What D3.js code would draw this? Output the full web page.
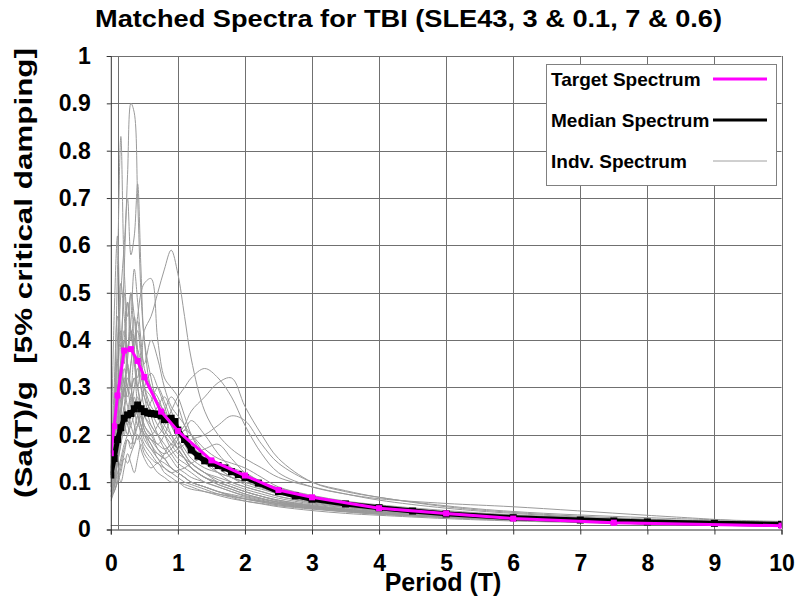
<!DOCTYPE html>
<html><head><meta charset="utf-8">
<script src="https://cdn.jsdelivr.net/npm/d3@7"></script>
<style>
body{margin:0;background:#fff}
svg{display:block}
text{font-family:"Liberation Sans",Arial,sans-serif;font-weight:bold;fill:#000}
</style>
</head><body>
<svg id="chart" width="798" height="600"></svg>
<script>
// ---------------- data ----------------
const titleText = "Matched Spectra for TBI (SLE43, 3 & 0.1, 7 & 0.6)";
const xTitle = "Period (T)";
const yTitle = "(Sa(T)/g  [5% critical damping]";
const legendLabels = ["Target Spectrum", "Median Spectrum", "Indv. Spectrum"];

const xTicks = [0,1,2,3,4,5,6,7,8,9,10];
const yTicks = [0,0.1,0.2,0.3,0.4,0.5,0.6,0.7,0.8,0.9,1];
const yTickLabels = ["0","0.1","0.2","0.3","0.4","0.5","0.6","0.7","0.8","0.9","1"];
const xGridExtra = [0.1];
const yGridExtra = [0.009];

const targetT = [0,0.05,0.1,0.2,0.3,0.4,0.5,0.75,1.0,1.5,2.0,2.5,3.0,4.0,5.0,6.0,7.5,10.0];
const targetV = [0.161,0.218,0.283,0.378,0.381,0.356,0.322,0.249,0.208,0.146,0.114,0.0835,0.068,0.045,0.034,0.023,0.0144,0.008];

const medianT = [0,0.05,0.1,0.15,0.2,0.25,0.3,0.35,0.4,0.45,0.5,0.55,0.6,0.65,0.7,0.75,0.8,0.85,0.9,0.95,1.0,1.1,1.2,1.3,1.4,1.5,1.6,1.7,1.8,1.9,2.0,2.2,2.5,2.75,3.0,3.5,4.0,4.5,5.0,6.0,7.0,7.5,8.0,9.0,10.0];
const medianV = [0.115,0.15,0.19,0.215,0.235,0.242,0.245,0.255,0.263,0.255,0.249,0.246,0.245,0.244,0.243,0.24,0.232,0.233,0.235,0.228,0.21,0.19,0.168,0.155,0.145,0.14,0.135,0.13,0.122,0.116,0.11,0.098,0.08,0.071,0.064,0.054,0.046,0.039,0.033,0.025,0.02,0.018,0.016,0.013,0.011];

const indvT = [0,0.05,0.1,0.15,0.2,0.25,0.3,0.35,0.4,0.45,0.5,0.6,0.7,0.8,0.9,1.0,1.1,1.2,1.4,1.6,1.8,2.0,2.25,2.5,3.0,3.5,4.0,5.0,6.0,8.0,10.0];
const indv01 = [0.09,0.14,0.22,0.35,0.55,0.75,0.90,0.88,0.70,0.50,0.40,0.30,0.28,0.24,0.20,0.17,0.15,0.13,0.11,0.095,0.085,0.075,0.065,0.058,0.05,0.042,0.036,0.028,0.022,0.014,0.010];
const indv02 = [0.10,0.25,0.55,0.83,0.55,0.45,0.50,0.38,0.30,0.26,0.22,0.20,0.17,0.15,0.13,0.12,0.11,0.10,0.09,0.08,0.072,0.065,0.058,0.052,0.045,0.038,0.033,0.026,0.02,0.013,0.009];
const indv03 = [0.12,0.45,0.62,0.40,0.50,0.35,0.30,0.32,0.26,0.22,0.20,0.18,0.15,0.14,0.13,0.12,0.11,0.10,0.09,0.08,0.07,0.065,0.06,0.055,0.048,0.042,0.038,0.03,0.024,0.015,0.011];
const indv04 = [0.11,0.20,0.35,0.50,0.60,0.70,0.58,0.62,0.73,0.55,0.40,0.32,0.26,0.22,0.20,0.18,0.16,0.14,0.12,0.10,0.09,0.08,0.07,0.062,0.052,0.044,0.038,0.03,0.024,0.016,0.011];
const indv05 = [0.08,0.10,0.15,0.20,0.25,0.30,0.35,0.40,0.38,0.36,0.42,0.45,0.50,0.55,0.59,0.54,0.45,0.36,0.25,0.20,0.17,0.15,0.13,0.11,0.09,0.075,0.062,0.045,0.034,0.02,0.013];
const indv06 = [0.09,0.13,0.18,0.25,0.30,0.38,0.42,0.40,0.45,0.50,0.52,0.53,0.40,0.32,0.30,0.28,0.24,0.20,0.15,0.12,0.10,0.09,0.08,0.07,0.058,0.048,0.04,0.03,0.024,0.016,0.011];
const indv07 = [0.07,0.09,0.12,0.15,0.18,0.20,0.22,0.24,0.25,0.26,0.24,0.22,0.20,0.22,0.25,0.28,0.30,0.32,0.34,0.32,0.28,0.22,0.16,0.12,0.09,0.075,0.065,0.055,0.048,0.03,0.013];
const indv08 = [0.08,0.10,0.14,0.18,0.22,0.25,0.28,0.26,0.24,0.22,0.20,0.19,0.18,0.17,0.18,0.20,0.22,0.25,0.28,0.31,0.32,0.26,0.20,0.15,0.10,0.08,0.068,0.048,0.036,0.022,0.015];
const indv09 = [0.07,0.08,0.11,0.14,0.17,0.19,0.18,0.20,0.22,0.21,0.19,0.17,0.16,0.15,0.16,0.17,0.18,0.19,0.20,0.22,0.24,0.23,0.18,0.14,0.10,0.082,0.068,0.05,0.038,0.025,0.017];
const indv10 = [0.10,0.18,0.30,0.42,0.35,0.48,0.40,0.45,0.38,0.30,0.28,0.22,0.20,0.18,0.16,0.14,0.13,0.12,0.10,0.09,0.08,0.07,0.062,0.055,0.046,0.04,0.035,0.027,0.021,0.014,0.01];
const indv11 = [0.13,0.22,0.40,0.52,0.45,0.38,0.42,0.35,0.30,0.34,0.28,0.25,0.22,0.20,0.18,0.16,0.15,0.13,0.11,0.10,0.09,0.08,0.07,0.062,0.05,0.043,0.037,0.028,0.022,0.015,0.01];
const indv12 = [0.08,0.12,0.18,0.25,0.30,0.28,0.35,0.40,0.44,0.38,0.35,0.40,0.36,0.30,0.26,0.24,0.22,0.18,0.15,0.13,0.11,0.10,0.088,0.076,0.062,0.05,0.043,0.033,0.026,0.017,0.012];
const indv13 = [0.09,0.15,0.22,0.30,0.28,0.32,0.30,0.26,0.28,0.25,0.22,0.20,0.22,0.25,0.28,0.26,0.22,0.20,0.16,0.14,0.13,0.12,0.10,0.085,0.07,0.058,0.05,0.038,0.03,0.019,0.013];
const indv14 = [0.06,0.08,0.10,0.12,0.15,0.14,0.16,0.18,0.20,0.19,0.17,0.15,0.14,0.16,0.18,0.17,0.15,0.13,0.11,0.10,0.09,0.08,0.07,0.06,0.05,0.042,0.036,0.028,0.022,0.014,0.01];
const indv15 = [0.07,0.09,0.12,0.10,0.13,0.16,0.14,0.12,0.15,0.18,0.16,0.14,0.12,0.11,0.10,0.10,0.09,0.085,0.08,0.072,0.065,0.06,0.055,0.05,0.043,0.037,0.032,0.025,0.02,0.013,0.009];
const indv16 = [0.11,0.20,0.28,0.36,0.42,0.38,0.50,0.45,0.36,0.32,0.30,0.26,0.24,0.21,0.19,0.17,0.15,0.14,0.12,0.105,0.095,0.085,0.075,0.066,0.054,0.046,0.04,0.031,0.024,0.016,0.011];
const indv17 = [0.10,0.14,0.20,0.26,0.32,0.30,0.26,0.30,0.34,0.30,0.26,0.24,0.26,0.28,0.25,0.22,0.19,0.17,0.14,0.12,0.11,0.10,0.09,0.08,0.065,0.054,0.046,0.035,0.027,0.017,0.012];
const indv18 = [0.12,0.30,0.45,0.38,0.30,0.26,0.24,0.28,0.24,0.20,0.18,0.16,0.14,0.13,0.12,0.11,0.10,0.095,0.085,0.075,0.068,0.06,0.054,0.048,0.04,0.034,0.03,0.023,0.018,0.012,0.008];
const indv19 = [0.08,0.11,0.15,0.20,0.24,0.22,0.28,0.32,0.30,0.27,0.30,0.33,0.30,0.26,0.22,0.20,0.21,0.23,0.20,0.16,0.13,0.11,0.095,0.082,0.066,0.055,0.047,0.036,0.028,0.018,0.012];
const indv20 = [0.09,0.16,0.25,0.32,0.40,0.48,0.42,0.36,0.32,0.36,0.30,0.24,0.20,0.17,0.15,0.13,0.12,0.11,0.10,0.09,0.08,0.072,0.064,0.057,0.047,0.04,0.035,0.027,0.021,0.014,0.01];
const indv21 = [0.10,0.13,0.17,0.22,0.20,0.25,0.22,0.20,0.22,0.26,0.24,0.21,0.18,0.20,0.23,0.21,0.18,0.16,0.17,0.18,0.15,0.12,0.10,0.088,0.07,0.058,0.05,0.038,0.03,0.019,0.013];
const indv22 = [0.07,0.10,0.16,0.22,0.26,0.35,0.30,0.38,0.42,0.36,0.30,0.28,0.24,0.20,0.17,0.15,0.14,0.13,0.11,0.095,0.085,0.075,0.066,0.058,0.048,0.041,0.036,0.028,0.022,0.014,0.01];
const indv23 = [0.12,0.17,0.24,0.20,0.26,0.22,0.20,0.18,0.20,0.17,0.15,0.13,0.14,0.12,0.11,0.10,0.095,0.09,0.08,0.075,0.07,0.064,0.058,0.052,0.044,0.038,0.033,0.026,0.02,0.013,0.009];
const indv24 = [0.08,0.12,0.18,0.24,0.30,0.36,0.44,0.55,0.48,0.40,0.34,0.30,0.27,0.25,0.22,0.19,0.16,0.14,0.12,0.11,0.10,0.09,0.08,0.07,0.056,0.047,0.04,0.031,0.024,0.016,0.011];
const indv25 = [0.06,0.09,0.14,0.18,0.22,0.20,0.24,0.22,0.19,0.21,0.24,0.27,0.30,0.27,0.23,0.19,0.17,0.15,0.13,0.12,0.11,0.10,0.09,0.078,0.062,0.052,0.044,0.034,0.026,0.017,0.012];
const indv26 = [0.09,0.14,0.20,0.28,0.34,0.30,0.28,0.24,0.27,0.24,0.21,0.19,0.17,0.16,0.17,0.19,0.21,0.20,0.17,0.15,0.14,0.13,0.11,0.09,0.072,0.06,0.052,0.04,0.031,0.02,0.014];
const indv27 = [0.11,0.24,0.36,0.30,0.40,0.34,0.30,0.26,0.22,0.24,0.21,0.18,0.16,0.15,0.13,0.12,0.11,0.10,0.09,0.08,0.074,0.068,0.06,0.054,0.045,0.039,0.034,0.026,0.02,0.013,0.009];
const indv28 = [0.07,0.08,0.10,0.13,0.16,0.19,0.17,0.21,0.24,0.22,0.20,0.17,0.15,0.13,0.12,0.125,0.13,0.14,0.15,0.13,0.11,0.095,0.085,0.075,0.06,0.05,0.043,0.033,0.026,0.017,0.012];
const indvSeries = [indv01,indv02,indv03,indv04,indv05,indv06,indv07,indv08,indv09,indv10,indv11,indv12,indv13,indv14,indv15,indv16,indv17,indv18,indv19,indv20,indv21,indv22,indv23,indv24,indv25,indv26,indv27,indv28];

// ---------------- drawing ----------------
const svg = d3.select("#chart");
const x = d3.scaleLinear().domain([0,10]).range([110.8,781.5]);
const y = d3.scaleLinear().domain([0,1]).range([529.5,56]);
const gridColor = "#707070";

svg.append("defs").append("clipPath").attr("id","clip")
  .append("rect").attr("x",x(0)).attr("y",y(1)).attr("width",x(10)-x(0)).attr("height",y(0)-y(1));

// grid
const grid = svg.append("g");
grid.selectAll("line.h").data(yTicks.slice(1).concat(yGridExtra)).join("line")
  .attr("x1",x(0)).attr("x2",x(10)).attr("y1",d=>Math.round(y(d))+0.5).attr("y2",d=>Math.round(y(d))+0.5)
  .attr("stroke",gridColor).attr("stroke-width",1);
grid.selectAll("line.v").data(xTicks.slice(1).concat(xGridExtra)).join("line")
  .attr("y1",y(0)).attr("y2",y(1)).attr("x1",d=>Math.round(x(d))+0.5).attr("x2",d=>Math.round(x(d))+0.5)
  .attr("stroke",gridColor).attr("stroke-width",1);

// individual spectra
const plot = svg.append("g").attr("clip-path","url(#clip)");
const lineIndv = d3.line().x((d,i)=>x(indvT[i])).y(d=>y(d)).curve(d3.curveCatmullRom.alpha(0.5));
plot.selectAll("path.indv").data(indvSeries).join("path")
  .attr("d",lineIndv).attr("fill","none").attr("stroke","#9a9a9a").attr("stroke-width",1);

// median
const lineMed = d3.line().x((d,i)=>x(medianT[i])).y(d=>y(d));
plot.append("path").datum(medianV).attr("d",lineMed).attr("fill","none")
  .attr("stroke","#000").attr("stroke-width",5).attr("stroke-linejoin","round");
plot.selectAll("rect.med").data(medianV).join("rect")
  .attr("x",(d,i)=>x(medianT[i])-3.5).attr("y",d=>y(d)-3.5).attr("width",7).attr("height",7).attr("fill","#000");

// target
const lineTgt = d3.line().x((d,i)=>x(targetT[i])).y(d=>y(d));
plot.append("path").datum(targetV).attr("d",lineTgt).attr("fill","none")
  .attr("stroke","#ff00ff").attr("stroke-width",3);
plot.selectAll("rect.tgt").data(targetV).join("rect")
  .attr("x",(d,i)=>x(targetT[i])-3).attr("y",d=>y(d)-3).attr("width",6).attr("height",6).attr("fill","#ff00ff");

// axes
const yAxis = svg.append("g").attr("transform",`translate(${x(0)},0)`)
  .call(d3.axisLeft(y).tickValues(yTicks).tickSize(4).tickPadding(16).tickFormat((d,i)=>yTickLabels[i]));
yAxis.selectAll("text").style("font-size","23px").style("font-family",'"Liberation Sans",Arial,sans-serif').style("font-weight","bold").attr("fill","#000");
yAxis.select(".domain").attr("stroke","#333");
yAxis.selectAll(".tick line").attr("stroke","#333");

const xAxis = svg.append("g").attr("transform",`translate(0,${y(0)})`)
  .call(d3.axisBottom(x).tickValues(xTicks).tickSize(5).tickPadding(20).tickFormat(d3.format("d")));
xAxis.selectAll("text").style("font-size","23px").style("font-family",'"Liberation Sans",Arial,sans-serif').style("font-weight","bold").attr("fill","#000");
xAxis.select(".domain").attr("stroke","#333");
xAxis.selectAll(".tick line").attr("stroke","#333");

// titles
svg.append("text").attr("x",408.5).attr("y",27).attr("text-anchor","middle")
  .attr("textLength",627).attr("lengthAdjust","spacingAndGlyphs")
  .style("font-size","24px").text(titleText);
svg.append("text").attr("x",443).attr("y",591).attr("text-anchor","middle")
  .style("font-size","25px").text(xTitle);
svg.append("text").attr("transform","translate(32,273) rotate(-90)").attr("text-anchor","middle")
  .attr("textLength",450).attr("lengthAdjust","spacingAndGlyphs")
  .style("font-size","23px").style("white-space","pre").text(yTitle);

// legend
const lg = svg.append("g");
lg.append("rect").attr("x",546.5).attr("y",64.5).attr("width",230).attr("height",121)
  .attr("fill","#fff").attr("stroke","#808080").attr("stroke-width",1);
const legendColors = ["#ff00ff","#000","#a0a0a0"];
const legendWidths = [3,3,1];
const legendY = [86,127,168];
legendLabels.forEach((lab,i)=>{
  lg.append("text").attr("x",551).attr("y",legendY[i]).style("font-size","19px").text(lab);
  lg.append("line").attr("x1",713).attr("x2",767).attr("y1",legendY[i]-7).attr("y2",legendY[i]-7)
    .attr("stroke",legendColors[i]).attr("stroke-width",legendWidths[i]);
});
</script>
</body></html>
